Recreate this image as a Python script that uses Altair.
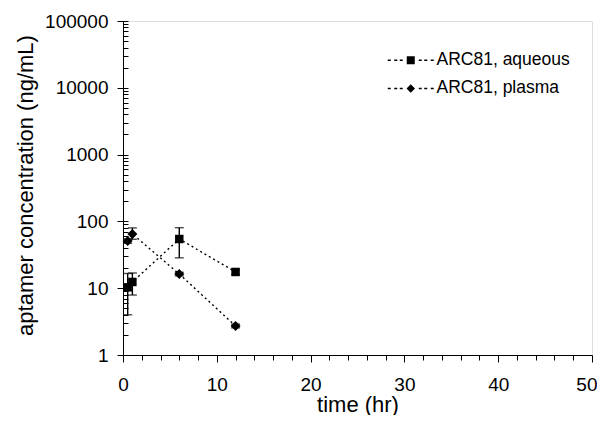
import altair as alt
import pandas as pd

# ---- data ----
series_names = ["ARC81, aqueous", "ARC81, plasma"]
aq_time = [0.5, 1, 6, 12]
aq_conc = [10.3, 12.4, 54.5, 17.5]
aq_lo = [4.0, 7.9, 28.5, 16.0]
aq_hi = [16.6, 16.9, 80.5, 19.0]
pl_time = [0.5, 1, 6, 12]
pl_conc = [50.9, 64.8, 16.3, 2.72]
pl_lo = [47.0, 54.0, 15.3, 2.55]
pl_hi = [55.0, 80.0, 17.3, 2.9]

x_ticks = list(range(0, 51, 2))
y_major = [1, 10, 100, 1000, 10000, 100000]
y_all = sorted(set([m * d for d in [1, 10, 100, 1000, 10000] for m in range(1, 10)] + [100000]))

rows = []
for t, c, lo, hi in zip(aq_time, aq_conc, aq_lo, aq_hi):
    rows.append({"series": series_names[0], "time": t, "conc": c, "lo": lo, "hi": hi})
for t, c, lo, hi in zip(pl_time, pl_conc, pl_lo, pl_hi):
    rows.append({"series": series_names[1], "time": t, "conc": c, "lo": lo, "hi": hi})
df = pd.DataFrame(rows)

FONT = "Liberation Sans"
W, H = 469, 334

xscale = alt.Scale(domain=[0, 50], nice=False, zero=False)
yscale = alt.Scale(type="log", domain=[1, 100000], nice=False)

major_test = "indexof([1,10,100,1000,10000,100000], datum.value) >= 0"

x_axis = alt.Axis(
    values=x_ticks,
    tickCount=len(x_ticks) + 4,
    labelExpr="datum.value % 10 === 0 ? datum.label : ''",
    tickSize={"condition": {"test": "datum.value % 10 === 0", "value": 7}, "value": 5},
    labelAlign={"condition": {"test": "datum.value === 50", "value": "right"}, "value": "center"},
    labelOffset={"condition": {"test": "datum.value === 50", "value": 5}, "value": 0},
    title="time (hr)",
    titleFont=FONT, titleFontSize=22, titleFontWeight="normal", titleColor="black",
    labelFont=FONT, labelFontSize=19, labelColor="black", labelPadding=13,
    titleBaseline="alphabetic", titleY=56,
    grid=False, domainColor="black", tickColor="black", labelFlush=False,
    labelOverlap=False,
)
y_axis = alt.Axis(
    values=y_all,
    tickCount=len(y_all) + 4,
    labelExpr=major_test + " ? format(datum.value, 'd') : ''",
    tickSize={"condition": {"test": major_test, "value": 6}, "value": 0},
    title="aptamer concentration (ng/mL)",
    titleFont=FONT, titleFontSize=22, titleFontWeight="normal", titleColor="black",
    labelFont=FONT, labelFontSize=19, labelColor="black", labelPadding=9,
    titleX=-86, titleY=H / 2 - 3,
    grid=False, domainColor="black", tickColor="black", labelFlush=False,
    labelOverlap=False,
)

base = alt.Chart(df)

lines = base.mark_line(strokeDash=[2, 3], strokeWidth=1.4, color="black").encode(
    x=alt.X("time:Q", scale=xscale, axis=x_axis),
    y=alt.Y("conc:Q", scale=yscale, axis=y_axis),
    detail="series:N",
    order="time:Q",
)
bars = base.mark_rule(color="black", strokeWidth=1.4).encode(
    x=alt.X("time:Q", scale=xscale),
    y=alt.Y("lo:Q", scale=yscale),
    y2="hi:Q",
)
caps_lo = base.mark_tick(color="black", orient="horizontal", size=9, thickness=1.4).encode(
    x=alt.X("time:Q", scale=xscale),
    y=alt.Y("lo:Q", scale=yscale),
)
caps_hi = base.mark_tick(color="black", orient="horizontal", size=9, thickness=1.4).encode(
    x=alt.X("time:Q", scale=xscale),
    y=alt.Y("hi:Q", scale=yscale),
)

squares = base.transform_filter(alt.datum.series == series_names[0]).mark_point(
    filled=True, color="black", opacity=1, size=72, shape="square"
).encode(x=alt.X("time:Q", scale=xscale), y=alt.Y("conc:Q", scale=yscale))
diamonds = base.transform_filter(alt.datum.series == series_names[1]).mark_point(
    filled=True, color="black", opacity=1, size=100, shape="diamond"
).encode(x=alt.X("time:Q", scale=xscale), y=alt.Y("conc:Q", scale=yscale))

# legend symbol paths: dotted line with the marker in the middle
k_dots = [-4.3, -3.0, -1.9, 1.9, 3.0, 4.3]
dots = "".join(
    f"M{c-0.3:.2f},-0.15L{c+0.3:.2f},-0.15L{c+0.3:.2f},0.15L{c-0.3:.2f},0.15Z" for c in k_dots
)
sq_path = dots + "M-0.8,-0.8L0.8,-0.8L0.8,0.8L-0.8,0.8Z"
di_path = dots + "M0,-0.85L0.85,0L0,0.85L-0.85,0Z"

legend_layer = base.transform_filter("false").mark_point(
    filled=True, color="black", opacity=1
).encode(
    x=alt.X("time:Q", scale=xscale),
    y=alt.Y("conc:Q", scale=yscale),
    shape=alt.Shape(
        "series:N",
        scale=alt.Scale(domain=series_names, range=[sq_path, di_path]),
        legend=alt.Legend(
            orient="none", legendX=279, legendY=30.5, title=None,
            labelFont=FONT, labelFontSize=17.5, labelColor="black",
            symbolSize=100, labelOffset=17, rowPadding=9.2, padding=0,
            symbolFillColor="black", symbolStrokeWidth=0, symbolOpacity=1,
        ),
    ),
)

main = alt.layer(lines, bars, caps_lo, caps_hi, squares, diamonds, legend_layer)

# inner (minor) ticks on the left axis, drawn with a right-oriented axis moved to the left edge
ghost = base.mark_point(opacity=0).encode(
    x=alt.X("time:Q", scale=xscale),
    y=alt.Y(
        "conc:Q",
        scale=yscale,
        axis=alt.Axis(orient="right", offset=-W, values=y_all, tickCount=len(y_all) + 4,
                      labels=False, domain=False,
                      ticks=True, tickSize=5, tickColor="black", title=None, grid=False),
    ),
)

chart = alt.layer(main, ghost).resolve_scale(y="independent").properties(
    width=W, height=H,
    autosize=alt.AutoSizeParams(type="none"),
    padding={"left": 115, "top": 13, "right": 5, "bottom": 60},
).configure_view(stroke="black", strokeWidth=1).configure(background="white")

chart.save("out.html", embed_options={"renderer": "svg", "actions": False})
